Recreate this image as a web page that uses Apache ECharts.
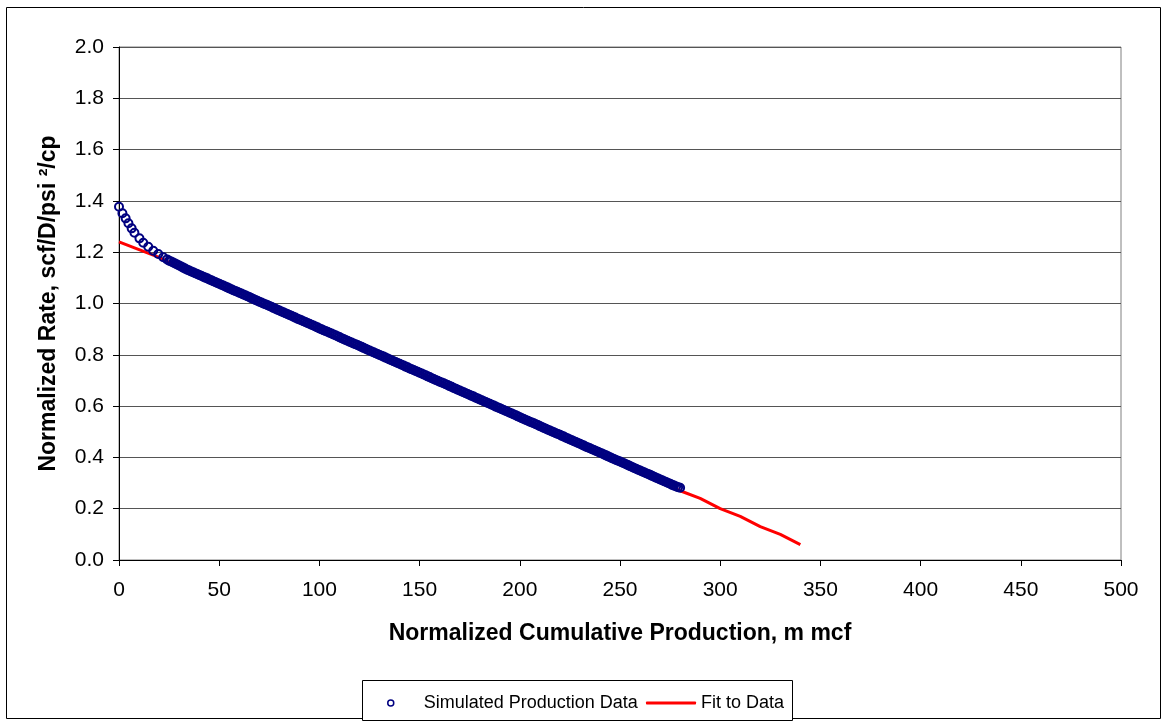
<!DOCTYPE html>
<html><head><meta charset="utf-8">
<script src="https://cdn.jsdelivr.net/npm/echarts@6/dist/echarts.min.js"></script>
<style>html,body{margin:0;padding:0;background:#fff}#c{width:1164px;height:725px}</style>
</head><body><div id="c"></div>
<script>
// Simulated production data (normalized cumulative production, mmcf)
const simX = [0,1.7,3.3,4.7,6.3,7.7,10.2,12.1,14.6,17.1,19.6,22.1,24,26,28,30,32,34,36,38,40,42,44,46,48,50,52,54,56,58,60,62,64,66,68,70,72,74,76,78,80,82,84,86,88,90,92,94,96,98,100,102,104,106,108,110,112,114,116,118,120,122,124,126,128,130,132,134,136,138,140,142,144,146,148,150,152,154,156,158,160,162,164,166,168,170,172,174,176,178,180,182,184,186,188,190,192,194,196,198,200,202,204,206,208,210,212,214,216,218,220,222,224,226,228,230,232,234,236,238,240,242,244,246,248,250,252,254,256,258,260,262,264,266,268,270,272,274,276,278,280];
// Normalized rate, scf/D/psi²/cp
const simY = [1.377,1.352,1.332,1.313,1.293,1.276,1.254,1.237,1.221,1.206,1.193,1.180,1.172,1.164,1.156,1.148,1.140,1.132,1.125,1.118,1.111,1.104,1.098,1.091,1.084,1.077,1.070,1.063,1.056,1.049,1.042,1.035,1.028,1.021,1.014,1.007,1.000,0.994,0.987,0.980,0.973,0.966,0.959,0.952,0.945,0.938,0.931,0.924,0.917,0.910,0.903,0.896,0.890,0.883,0.876,0.869,0.862,0.855,0.848,0.841,0.834,0.827,0.820,0.813,0.806,0.799,0.793,0.786,0.779,0.772,0.765,0.758,0.751,0.744,0.737,0.730,0.723,0.716,0.709,0.702,0.695,0.689,0.682,0.675,0.668,0.661,0.654,0.647,0.640,0.633,0.626,0.619,0.612,0.605,0.598,0.592,0.585,0.578,0.571,0.564,0.557,0.550,0.543,0.536,0.529,0.522,0.515,0.508,0.501,0.494,0.488,0.481,0.474,0.467,0.460,0.453,0.446,0.439,0.432,0.425,0.418,0.411,0.404,0.397,0.390,0.384,0.377,0.370,0.363,0.356,0.349,0.342,0.335,0.328,0.321,0.314,0.307,0.300,0.293,0.287,0.282];
// Additional densely spaced samples of the same band
const simX2 = [25,27,29,31,33,35,37,39,41,43,45,47,49,51,53,55,57,59,61,63,65,67,69,71,73,75,77,79,81,83,85,87,89,91,93,95,97,99,101,103,105,107,109,111,113,115,117,119,121,123,125,127,129,131,133,135,137,139,141,143,145,147,149,151,153,155,157,159,161,163,165,167,169,171,173,175,177,179,181,183,185,187,189,191,193,195,197,199,201,203,205,207,209,211,213,215,217,219,221,223,225,227,229,231,233,235,237,239,241,243,245,247,249,251,253,255,257,259,261,263,265,267,269,271,273,275,277,279];
const simY2 = [1.167,1.160,1.152,1.144,1.136,1.129,1.122,1.115,1.108,1.101,1.094,1.087,1.080,1.073,1.066,1.059,1.052,1.046,1.039,1.032,1.025,1.018,1.011,1.004,0.997,0.990,0.983,0.976,0.969,0.962,0.955,0.948,0.941,0.935,0.928,0.921,0.914,0.907,0.900,0.893,0.886,0.879,0.872,0.865,0.858,0.851,0.844,0.838,0.831,0.824,0.817,0.810,0.803,0.796,0.789,0.782,0.775,0.768,0.761,0.754,0.747,0.741,0.734,0.727,0.720,0.713,0.706,0.699,0.692,0.685,0.678,0.671,0.664,0.657,0.650,0.643,0.637,0.630,0.623,0.616,0.609,0.602,0.595,0.588,0.581,0.574,0.567,0.560,0.553,0.546,0.539,0.533,0.526,0.519,0.512,0.505,0.498,0.491,0.484,0.477,0.470,0.463,0.456,0.449,0.442,0.436,0.429,0.422,0.415,0.408,0.401,0.394,0.387,0.380,0.373,0.366,0.359,0.352,0.345,0.338,0.332,0.325,0.318,0.311,0.304,0.297,0.290,0.284];
// Fit to data
const fitX = [0,10,20,30,40,50,60,70,80,90,100,110,120,130,140,150,160,170,180,190,200,210,220,230,240,250,260,270,280,290,300,310,320,330,340];
const fitY = [1.24,1.21,1.18,1.14,1.11,1.07,1.04,1.00,0.97,0.93,0.90,0.86,0.83,0.80,0.76,0.73,0.69,0.66,0.62,0.59,0.55,0.52,0.48,0.45,0.41,0.38,0.34,0.31,0.27,0.24,0.20,0.17,0.13,0.10,0.06];
const xTitle = 'Normalized Cumulative Production, m mcf';
const yTitle = 'Normalized Rate, scf/D/psi \u00B2/cp';
const seriesNames = ['Simulated Production Data','Fit to Data'];

const FONT = 'Liberation Sans, Arial, sans-serif';
const simData = simX.map((x,i)=>[x,simY[i]]).concat(simX2.map((x,i)=>[x,simY2[i]]));
const chart = echarts.init(document.getElementById('c'), null, {renderer:'canvas'});
chart.setOption({
  animation:false,
  backgroundColor:'#fff',
  grid:{left:119,right:43,top:47,bottom:165,show:true,borderColor:'#808080',borderWidth:1,backgroundColor:'#fff'},
  graphic:[
    {type:'rect',shape:{x:6.5,y:7.5,width:1154,height:711},style:{fill:'none',stroke:'#000',lineWidth:1},silent:true,z:-1},
    {type:'rect',shape:{x:362.5,y:680.5,width:430,height:40},style:{fill:'#fff',stroke:'#000',lineWidth:1},silent:true,z:0}
  ],
  xAxis:{type:'value',min:0,max:500,interval:50,
    name:xTitle,nameLocation:'middle',nameGap:62,
    nameTextStyle:{fontFamily:FONT,fontSize:23,fontWeight:'bold',color:'#000'},
    axisLine:{show:true,lineStyle:{color:'#000',width:1}},
    axisTick:{show:true,length:6,lineStyle:{color:'#000'}},
    axisLabel:{fontFamily:FONT,fontSize:21,color:'#000',margin:20},
    splitLine:{show:false}},
  yAxis:{type:'value',min:0,max:2,interval:0.2,
    name:yTitle,nameLocation:'middle',nameGap:59,
    nameTextStyle:{fontFamily:FONT,fontSize:23,fontWeight:'bold',color:'#000'},
    axisLine:{show:true,lineStyle:{color:'#000',width:1}},
    axisTick:{show:true,length:6,lineStyle:{color:'#000'}},
    axisLabel:{fontFamily:FONT,fontSize:21,color:'#000',margin:15,formatter:v=>v.toFixed(1)},
    splitLine:{show:true,lineStyle:{color:'#555',width:1}}},
  legend:[
    {left:382,top:689,itemWidth:6,itemHeight:6,itemGap:0,
     textStyle:{fontFamily:FONT,fontSize:18,color:'#000',padding:[0,0,0,25]},
     data:[{name:seriesNames[0],icon:'circle',itemStyle:{color:'#fff',borderColor:'#000080',borderWidth:1.5}}],z:5},
    {left:641,top:689,itemWidth:50,itemHeight:3,itemGap:0,
     textStyle:{fontFamily:FONT,fontSize:18,color:'#000'},
     data:[{name:seriesNames[1],icon:'roundRect',itemStyle:{color:'#FF0000'}}],z:5}
  ],
  series:[
    {name:seriesNames[1],type:'line',symbol:'none',z:2,
     data:fitX.map((x,i)=>[x,fitY[i]]),
     lineStyle:{color:'#FF0000',width:3},itemStyle:{color:'#FF0000'}},
    {name:seriesNames[0],type:'scatter',symbol:'circle',symbolSize:8,z:3,
     data:simData,
     itemStyle:{color:'rgba(0,0,0,0)',borderColor:'#000080',borderWidth:2,opacity:1}}
  ]
});
</script></body></html>
